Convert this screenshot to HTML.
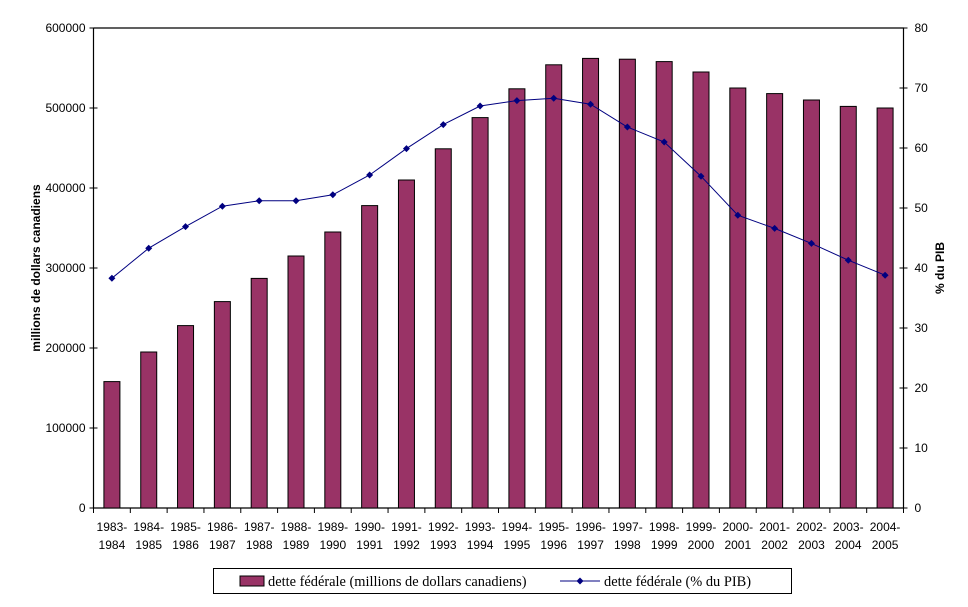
<!DOCTYPE html>
<html><head><meta charset="utf-8"><style>
body{margin:0;background:#fff;font-family:"Liberation Sans",Arial,sans-serif;}
svg text{font-family:"Liberation Sans",Arial,sans-serif;font-size:12px;fill:#000;}
</style></head><body>
<svg id="c" width="968" height="602" xmlns="http://www.w3.org/2000/svg"></svg>
<script>
const categories=["1983-1984","1984-1985","1985-1986","1986-1987","1987-1988","1988-1989","1989-1990","1990-1991","1991-1992","1992-1993","1993-1994","1994-1995","1995-1996","1996-1997","1997-1998","1998-1999","1999-2000","2000-2001","2001-2002","2002-2003","2003-2004","2004-2005"];
const debtValues=[158000,195000,228000,258000,287000,315000,345000,378000,410000,449000,488000,524000,554000,562000,561000,558000,545000,525000,518000,510000,502000,500000];
const pctValues=[38.3,43.3,46.9,50.3,51.2,51.2,52.2,55.5,59.9,63.9,67.0,67.9,68.3,67.3,63.5,61.0,55.3,48.8,46.6,44.1,41.3,38.8];
const leftTicks=[0,100000,200000,300000,400000,500000,600000];
const rightTicks=[0,10,20,30,40,50,60,70,80];
const NS="http://www.w3.org/2000/svg",svg=document.getElementById('c');
const X0=93.5,X1=903.5,Y0=508,Y1=28;
const cw=(X1-X0)/categories.length;
const yL=v=>Y0-(v/600000)*(Y0-Y1);
const yR=v=>Y0-(v/80)*(Y0-Y1);
const xc=i=>X0+cw*(i+0.5);
function el(t,a,p){const e=document.createElementNS(NS,t);for(const k in a)e.setAttribute(k,a[k]);(p||svg).appendChild(e);return e;}
const fr=el('path',{d:`M${X0} ${Y1}H${X1}V${Y0}M${X0} ${Y1}V${Y0}H${X1}`,stroke:'#000',fill:'none','stroke-width':1.2});


categories.forEach((c,i)=>{
  const b=el('rect',{x:xc(i)-8,y:yL(debtValues[i]),width:16,height:Y0-yL(debtValues[i]),fill:'#993366',stroke:'#000','stroke-width':1});
  
  
  const parts=c.split('-');
  const t=el('text',{x:xc(i),y:531,'text-anchor':'middle'});t.textContent=parts[0]+'-';
  
  
  const t2=el('text',{x:xc(i),y:549,'text-anchor':'middle'});t2.textContent=parts[1];
  
  
});
for(let i=0;i<=categories.length;i++){el('line',{x1:X0+cw*i,x2:X0+cw*i,y1:Y0,y2:Y0+5,stroke:'#000'});}
leftTicks.forEach(v=>{
  el('line',{x1:X0-4,x2:X0+4,y1:yL(v),y2:yL(v),stroke:'#000'});
  const t=el('text',{x:X0-8,y:yL(v)+4,'text-anchor':'end'});t.textContent=v;
  
  
});
rightTicks.forEach(v=>{
  el('line',{x1:X1-4,x2:X1+4,y1:yR(v),y2:yR(v),stroke:'#000'});
  const t=el('text',{x:X1+11,y:yR(v)+4,'text-anchor':'start'});t.textContent=v;
  
  
});
const ln=el('polyline',{points:pctValues.map((v,i)=>xc(i)+','+yR(v)).join(' '),fill:'none',stroke:'#000080','stroke-width':1});


pctValues.forEach((v,i)=>{
  const p=el('path',{d:`M${xc(i)} ${yR(v)-3.5}l3.5 3.5l-3.5 3.5l-3.5 -3.5z`,fill:'#000080'});
  
  
});
const lt=el('text',{x:0,y:0,transform:'translate(40,268) rotate(-90)','text-anchor':'middle','font-weight':'bold'});
lt.textContent='millions de dollars canadiens';


const rt=el('text',{x:0,y:0,transform:'translate(944,268) rotate(-90)','text-anchor':'middle','font-weight':'bold'});
rt.textContent='% du PIB';


const lg=el('g',{});


el('rect',{x:213.5,y:568.5,width:578,height:25,fill:'#fff',stroke:'#000'},lg);
const e1=el('g',{},lg);


el('rect',{x:240,y:576,width:24,height:10,fill:'#993366',stroke:'#000'},e1);
const l1=el('text',{x:268,y:586},e1);l1.textContent='dette fédérale (millions de dollars canadiens)';
l1.setAttribute('style','font-family:"Liberation Serif",serif;font-size:14.4px');
const e2=el('g',{},lg);


el('line',{x1:560,x2:600,y1:581,y2:581,stroke:'#000080'},e2);
el('path',{d:'M580 577.5l3.5 3.5l-3.5 3.5l-3.5 -3.5z',fill:'#000080'},e2);
const l2=el('text',{x:604,y:586},e2);l2.textContent='dette fédérale (% du PIB)';
l2.setAttribute('style','font-family:"Liberation Serif",serif;font-size:14.4px');
</script>
</body></html>
